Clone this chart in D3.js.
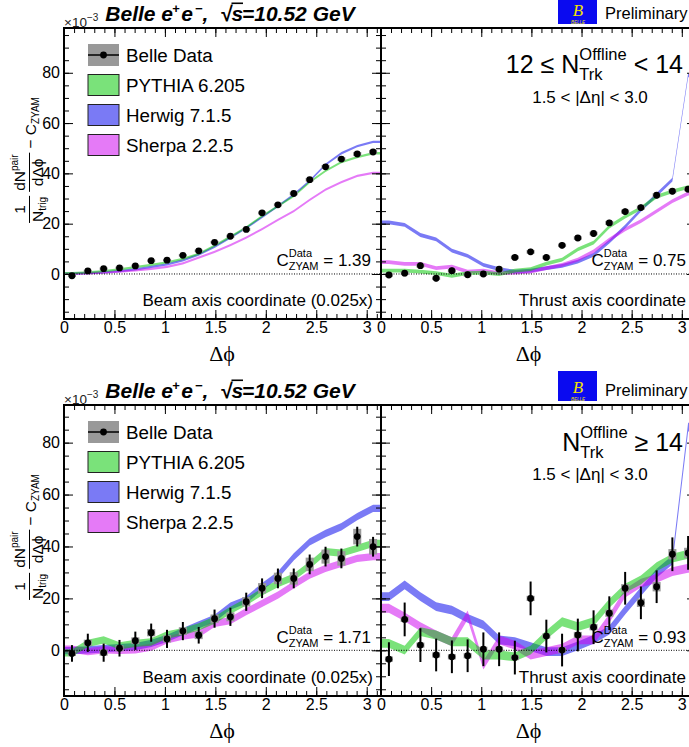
<!DOCTYPE html>
<html>
<head>
<meta charset="utf-8">
<script src="https://cdn.jsdelivr.net/npm/d3@7"></script>
<style>
  body { margin: 0; background: #fff; }
  svg { display: block; font-family: 'Liberation Sans', Arial, sans-serif; }
  svg text { white-space: pre; }
</style>
</head>
<body>
<svg id="chart" width="689" height="747"></svg>
<script>
// Δφ bin centres (20 bins over 0..π)
const phiCenters = [0.079, 0.236, 0.393, 0.550, 0.707, 0.864, 1.021, 1.178, 1.335, 1.492,
                    1.649, 1.806, 1.963, 2.120, 2.277, 2.435, 2.592, 2.749, 2.906, 3.063];
const xTicks = [0, 0.5, 1, 1.5, 2, 2.5, 3];
const yTicks = [0, 20, 40, 60, 80];
const legendLabels = ['Belle Data', 'PYTHIA 6.205', 'Herwig 7.1.5', 'Sherpa 2.2.5'];

// 12 <= N < 14, beam axis
const beamLowData   = [-0.7, 1.2, 2.1, 2.4, 3.2, 5.3, 5.5, 7.4, 9.2, 12.6, 15.0, 17.7, 24.3, 27.5, 32.0, 37.5, 42.6, 45.7, 47.7, 48.5];
const beamLowStat   = [0.4, 0.4, 0.4, 0.4, 0.4, 0.4, 0.4, 0.4, 0.4, 0.4, 0.4, 0.4, 0.4, 0.4, 0.4, 0.4, 0.4, 0.4, 0.4, 0.4];
const beamLowSys    = [0.5, 0.5, 0.5, 0.5, 0.5, 0.5, 0.5, 0.5, 0.5, 0.5, 0.6, 0.6, 0.6, 0.6, 0.7, 0.7, 0.7, 0.7, 0.8, 0.8];
const beamLowPythia = [0.3, 0.6, 1.1, 1.8, 2.7, 3.6, 4.6, 6.0, 8.0, 11.3, 14.8, 18.5, 23.0, 27.0, 31.0, 36.5, 41.0, 44.5, 46.5, 48.0];
const beamLowHerwig = [0.1, 0.3, 0.6, 1.1, 1.8, 2.8, 3.8, 5.4, 7.7, 10.8, 14.5, 18.3, 22.6, 27.0, 31.5, 37.0, 43.5, 48.0, 50.8, 52.5];
const beamLowSherpa = [0.05, 0.2, 0.5, 0.9, 1.4, 2.0, 2.8, 4.2, 6.5, 8.8, 11.5, 14.5, 17.8, 21.5, 25.0, 29.5, 33.5, 36.5, 39.0, 40.2];
const beamLowMcErr  = 0.45;

// 12 <= N < 14, thrust axis
const thrustLowData   = [-0.4, 0.3, 3.3, -1.7, 1.3, -0.3, 0.0, 1.9, 6.6, 8.8, 6.6, 11.4, 14.3, 16.1, 20.3, 24.8, 26.4, 31.3, 32.9, 33.7];
const thrustLowStat   = [1.2, 1.2, 1.2, 1.2, 1.2, 1.2, 1.2, 1.2, 1.2, 1.2, 1.2, 1.2, 1.2, 1.2, 1.2, 1.2, 1.2, 1.2, 1.2, 1.2];
const thrustLowSys    = [0.7, 0.7, 0.7, 0.7, 0.7, 0.7, 0.7, 0.7, 0.7, 0.7, 0.7, 0.7, 0.7, 0.7, 0.8, 0.8, 0.8, 0.8, 0.8, 0.8];
const thrustLowPythia = [1.3, 1.3, 0.9, 0.3, -0.7, 0.3, 0.5, -0.1, 1.3, 1.9, 4.1, 5.7, 9.8, 12.5, 18.8, 22.8, 26.2, 30.8, 32.8, 34.5];
const thrustLowHerwig = [20.5, 19.5, 15.5, 13.8, 9.3, 7.2, 3.6, 1.9, 0.9, 1.3, 2.3, 3.2, 4.9, 7.6, 12.9, 18.8, 25.5, 31.5, 37.5, 79.0];
const thrustLowSherpa = [4.7, 4.0, 4.0, 2.3, 2.9, 0.9, 1.3, 0.3, 0.5, 0.9, 2.3, 3.6, 5.7, 9.0, 13.7, 17.7, 21.0, 25.0, 29.0, 32.0];
const thrustLowMcErr  = 0.75;

// N >= 14, beam axis
const beamHighData   = [-1.2, 2.9, -0.9, 0.8, 3.7, 6.8, 4.4, 7.4, 5.8, 12.2, 12.9, 18.7, 23.9, 27.7, 27.7, 33.1, 36.1, 35.4, 43.8, 39.9];
const beamHighStat   = [3.2, 3.5, 3.5, 3.2, 3.5, 3.5, 3.5, 3.5, 3.2, 3.5, 3.5, 3.5, 3.8, 3.8, 3.8, 3.8, 3.8, 3.8, 3.8, 3.8];
const beamHighSys    = [1.0, 1.2, 1.2, 1.2, 1.3, 1.4, 1.4, 1.5, 1.5, 1.6, 1.7, 1.8, 2.0, 2.2, 2.4, 2.6, 2.7, 2.8, 3.0, 3.0];
const beamHighPythia = [-1.0, 2.7, 4.0, 1.7, 2.7, 3.2, 5.9, 7.2, 9.0, 11.6, 15.4, 18.7, 22.5, 25.7, 28.2, 32.8, 38.0, 37.4, 39.3, 41.2];
const beamHighHerwig = [-0.1, 0.2, 0.6, 1.0, 1.4, 2.7, 4.6, 7.2, 9.8, 12.3, 17.0, 19.4, 24.5, 29.0, 36.0, 41.8, 45.0, 47.6, 51.5, 54.7];
const beamHighSherpa = [0.5, -0.5, 0.2, 0.0, 0.2, 1.2, 4.0, 5.5, 6.3, 10.4, 11.4, 14.9, 18.1, 21.3, 25.2, 29.0, 31.6, 33.5, 35.4, 36.1];
const beamHighMcErr  = 1.4;

// N >= 14, thrust axis
const thrustHighData   = [-3.4, 11.9, 2.0, -1.8, -2.5, -2.1, 0.4, 0.4, -2.8, 20.0, 5.5, 0.1, 5.9, 8.9, 14.3, 23.9, 18.3, 24.5, 37.0, 37.5];
const thrustHighStat   = [6.5, 6.5, 6.5, 6.3, 6.3, 6.3, 6.5, 6.5, 6.5, 6.5, 6.3, 6.3, 6.3, 6.5, 6.5, 6.3, 6.3, 6.3, 6.5, 6.5];
const thrustHighSys    = [1.0, 1.0, 1.0, 1.0, 1.0, 1.0, 1.0, 1.0, 1.0, 1.0, 1.0, 1.0, 1.2, 1.2, 1.4, 1.6, 1.6, 1.8, 2.0, 2.0];
const thrustHighPythia = [2.7, 0.1, 7.2, 5.9, 3.3, 3.3, -1.8, -1.8, -2.5, 0.1, 5.9, 11.0, 9.1, 11.0, 18.1, 23.9, 27.1, 32.2, 35.5, 37.0];
const thrustHighHerwig = [20.7, 25.2, 20.7, 16.8, 15.5, 12.3, 9.8, 4.0, 3.3, 1.4, -0.5, -0.5, 1.7, 4.2, 7.8, 15.5, 22.6, 29.7, 34.8, 86.0];
const thrustHighSherpa = [16.2, 12.9, 9.1, 5.9, 3.3, 13.6, -5.7, 4.0, 2.0, -1.8, -0.5, 0.8, 4.0, 4.0, 12.3, 22.0, 25.9, 27.7, 30.3, 31.6];
const thrustHighMcErr  = 1.7;

const svg = d3.select('#chart');
const colors = { pythia: 'rgb(0,200,0)', herwig: 'rgb(0,0,235)', sherpa: 'rgb(205,0,240)' };
const bandOpacity = 0.52;

// Lay out a run of text pieces (with sub/superscripts) and anchor it
function rich(parent, x, y, parts, anchor) {
    const grp = parent.append('g');
    let cx = 0;
    const piece = (p, px) => {
        const t = grp.append('text')
            .attr('x', px).attr('y', p.dy || 0)
            .style('font-size', p.size + 'px')
            .text(p.t);
        if (p.family) t.style('font-family', p.family);
        return t.node().getComputedTextLength();
    };
    parts.forEach(p => {
        if (p.stack) {
            const w = Math.max(...p.stack.map(s => piece(s, cx)));
            cx += w;
        } else {
            const w = piece(p, cx);
            if (p.over) {
                grp.append('line')
                    .attr('x1', cx).attr('x2', cx + w + 1)
                    .attr('y1', -p.size * 0.82).attr('y2', -p.size * 0.82)
                    .attr('stroke', '#000').attr('stroke-width', 1.6);
            }
            cx += w + (p.gap || 0);
        }
    });
    const shift = anchor === 'end' ? -cx : anchor === 'middle' ? -cx / 2 : 0;
    grp.attr('transform', `translate(${x + shift},${y})`);
    return grp;
}

function drawRow(row) {
    const y = d3.scaleLinear().domain(row.yDomain).range([row.y1, row.y0]);

    // title, logo
    const title = rich(svg, 230, row.y0 - 7.5, [
        { t: 'Belle e', size: 21, gap: 2.5 }, { t: '+', size: 13, dy: -8, gap: 1.5 },
        { t: 'e', size: 21, gap: 2 }, { t: '\u2212', size: 13, dy: -8 },
        { t: ',  ', size: 21 }, { t: '\u221A', size: 21 },
        { t: 's', size: 21, over: true }, { t: '=10.52 GeV', size: 21 }
    ], 'middle');
    title.style('font-weight', 'bold').style('font-style', 'italic');

    rich(svg, 64, row.y0 - 1.5, [
        { t: '\u00D710', size: 13.5 }, { t: '\u22123', size: 10, dy: -6 }
    ], 'start').attr('fill', '#222');

    svg.append('rect').attr('x', 558).attr('y', row.y0 - 34)
        .attr('width', 39).attr('height', 30).attr('fill', '#0a0af0');
    svg.append('text').attr('x', 578).attr('y', row.y0 - 12)
        .attr('text-anchor', 'middle').attr('fill', '#f0e000')
        .style('font-family', "'Liberation Serif', serif").style('font-style', 'italic')
        .style('font-size', '17px').text('B');
    svg.append('text').attr('x', 578).attr('y', row.y0 - 4)
        .attr('text-anchor', 'middle').attr('fill', '#f0e000')
        .style('font-size', '4.5px').style('font-style', 'italic').text('BELLE');
    svg.append('text').attr('x', 605).attr('y', row.y0 - 9.5)
        .style('font-size', '16.5px').text('Preliminary');

    // y axis title
    const cy = row.y0 + 132;
    const yl = svg.append('g').attr('transform', `translate(0,${cy}) rotate(-90)`);
    const ylParts = yl.append('g');
    let lx = 0;
    const frac = (numParts, denParts) => {
        const num = rich(ylParts, 0, 25, numParts, 'start');
        const den = rich(ylParts, 0, 43, denParts, 'start');
        const wn = num.node().getBBox().width, wd = den.node().getBBox().width;
        const w = Math.max(wn, wd) + 2;
        num.attr('transform', `translate(${lx + (w - wn) / 2},25)`);
        den.attr('transform', `translate(${lx + (w - wd) / 2},43)`);
        ylParts.append('line').attr('x1', lx).attr('x2', lx + w)
            .attr('y1', 29.5).attr('y2', 29.5).attr('stroke', '#000').attr('stroke-width', 1);
        lx += w + 4;
    };
    frac([{ t: '1', size: 15.5 }], [{ t: 'N', size: 15.5 }, { t: 'trig', size: 10, dy: 3 }]);
    frac([{ t: 'dN', size: 15.5 }, { t: 'pair', size: 10, dy: -7 }],
         [{ t: 'd\u0394\u03D5', size: 15.5 }]);
    const cz = rich(ylParts, lx, 36, [
        { t: '\u2212 C', size: 15.5 }, { t: 'ZYAM', size: 10, dy: 3 }
    ], 'start');
    lx += cz.node().getBBox().width;
    ylParts.attr('transform', `translate(${-lx / 2},0)`);

    row.panels.forEach(p => drawPanel(p, row, y));
}

function drawPanel(p, row, y) {
    const x = d3.scaleLinear().domain([0, Math.PI]).range([p.x0, p.x1]);
    const clipId = 'clip' + p.id;
    svg.append('clipPath').attr('id', clipId).append('rect')
        .attr('x', p.x0).attr('y', row.y0)
        .attr('width', p.x1 - p.x0).attr('height', row.y1 - row.y0);
    const plot = svg.append('g').attr('clip-path', `url(#${clipId})`);

    // model bands, extended flat to the frame edges
    const bandPts = vals => [{ x: 0, v: vals[0] }]
        .concat(phiCenters.map((c, i) => ({ x: c, v: vals[i] })))
        .concat([{ x: Math.PI, v: vals[vals.length - 1] }]);
    const area = d3.area()
        .x(d => x(d.x))
        .y0(d => y(d.v - p.mcErr))
        .y1(d => y(d.v + p.mcErr));
    [['herwig', p.herwig], ['sherpa', p.sherpa], ['pythia', p.pythia]].forEach(([k, vals]) => {
        plot.append('path').datum(bandPts(vals))
            .attr('d', area)
            .attr('fill', colors[k]).attr('fill-opacity', bandOpacity);
    });

    // zero line
    plot.append('line').attr('x1', p.x0).attr('x2', p.x1)
        .attr('y1', y(0)).attr('y2', y(0))
        .attr('stroke', '#000').attr('stroke-width', 1).attr('stroke-dasharray', '1,1.5');

    // data
    const pts = phiCenters.map((c, i) => ({ x: c, v: p.data[i], s: p.stat[i], sy: p.sys[i] }));
    plot.selectAll(null).data(pts).enter().append('rect')
        .attr('x', d => x(d.x - 0.04)).attr('width', d => x(d.x + 0.04) - x(d.x - 0.04))
        .attr('y', d => y(d.v + d.sy)).attr('height', d => y(d.v - d.sy) - y(d.v + d.sy))
        .attr('fill', '#999');
    plot.selectAll(null).data(pts).enter().append('line')
        .attr('x1', d => x(d.x)).attr('x2', d => x(d.x))
        .attr('y1', d => y(d.v + d.s)).attr('y2', d => y(d.v - d.s))
        .attr('stroke', '#000').attr('stroke-width', 2);
    plot.selectAll(null).data(pts).enter().append('circle')
        .attr('cx', d => x(d.x)).attr('cy', d => y(d.v)).attr('r', 3.4)
        .attr('fill', '#000');

    // axes: ticks pointing inwards on all four sides
    const yMinor = d3.range(-15, row.yDomain[1], 5);
    const xMinor = d3.range(0, 3.15, 0.1);
    const axes = [
        [d3.axisBottom(x).tickValues(xTicks).tickSize(-9).tickPadding(3).tickFormat(d3.format('')), `translate(0,${row.y1})`],
        [d3.axisBottom(x).tickValues(xMinor).tickSize(-5).tickFormat(''), `translate(0,${row.y1})`],
        [d3.axisTop(x).tickValues(xTicks).tickSize(-9).tickFormat(''), `translate(0,${row.y0})`],
        [d3.axisTop(x).tickValues(xMinor).tickSize(-5).tickFormat(''), `translate(0,${row.y0})`],
        [d3.axisLeft(y).tickValues(yTicks).tickSize(-9).tickPadding(4).tickFormat(p.yLabels ? d3.format('') : ''), `translate(${p.x0},0)`],
        [d3.axisLeft(y).tickValues(yMinor).tickSize(-5).tickFormat(''), `translate(${p.x0},0)`],
        [d3.axisRight(y).tickValues(yTicks).tickSize(-9).tickFormat(''), `translate(${p.x1},0)`],
        [d3.axisRight(y).tickValues(yMinor).tickSize(-5).tickFormat(''), `translate(${p.x1},0)`]
    ];
    axes.forEach(([ax, tr]) => {
        const g = svg.append('g').attr('transform', tr).call(ax);
        g.select('.domain').remove();
        g.selectAll('line').attr('stroke', '#000').attr('stroke-width', 1);
        g.selectAll('text').attr('fill', '#000').style('font-size', '16px')
            .style('font-family', "'Liberation Sans', Arial, sans-serif");
    });

    svg.append('rect').attr('x', p.x0).attr('y', row.y0)
        .attr('width', p.x1 - p.x0).attr('height', row.y1 - row.y0)
        .attr('fill', 'none').attr('stroke', '#000').attr('stroke-width', 2);

    svg.append('text').attr('x', (p.x0 + p.x1) / 2 + (p.yLabels ? -0.5 : -10))
        .attr('y', row.y1 + 42).attr('text-anchor', 'middle')
        .style('font-family', "'Liberation Serif', serif").style('font-size', '22px')
        .text('\u0394\u03D5');

    // annotations
    const textRight = p.yLabels ? 373 : 686;
    svg.append('text').attr('x', textRight).attr('y', row.y1 - 13)
        .attr('text-anchor', 'end').style('font-size', '17px').text(p.coord);
    rich(svg, p.yLabels ? 371 : 686, row.y1 - 53, [
        { t: 'C', size: 17 },
        { stack: [{ t: 'Data', size: 11, dy: -9 }, { t: 'ZYAM', size: 11, dy: 4 }] },
        { t: ' = ' + p.czyam, size: 17 }
    ], 'end');

    if (p.yLabels) {
        // legend
        const ly = row.y0 + 27;
        legendLabels.forEach((lab, i) => {
            const cyy = ly + i * 30;
            if (i === 0) {
                svg.append('rect').attr('x', 88).attr('y', cyy - 11).attr('width', 31).attr('height', 22).attr('fill', '#999');
                svg.append('line').attr('x1', 88).attr('x2', 119).attr('y1', cyy).attr('y2', cyy)
                    .attr('stroke', '#000').attr('stroke-width', 1.5);
                svg.append('circle').attr('cx', 103.5).attr('cy', cyy).attr('r', 3.4).attr('fill', '#000');
            } else {
                const k = ['pythia', 'herwig', 'sherpa'][i - 1];
                svg.append('rect').attr('x', 88).attr('y', cyy - 10.5).attr('width', 31).attr('height', 21)
                    .attr('fill', colors[k]).attr('fill-opacity', bandOpacity)
                    .attr('stroke', '#222').attr('stroke-width', 1);
            }
            svg.append('text').attr('x', 126).attr('y', cyy + 7)
                .style('font-size', '18.8px').text(lab);
        });
    } else {
        rich(svg, 683, row.y0 + row.nOffset, row.nParts, 'end');
        svg.append('text').attr('x', 590).attr('y', row.y0 + 75)
            .attr('text-anchor', 'middle').style('font-size', '17px')
            .text('1.5 < |\u0394\u03B7| < 3.0');
    }
}

const offlineStack = { stack: [{ t: 'Offline', size: 16.5, dy: -13 }, { t: 'Trk', size: 16.5, dy: 7 }] };

const rows = [
    {
        y0: 28, y1: 319, yDomain: [-17.9, 97.8], nOffset: 45,
        nParts: [{ t: '12 \u2264 N', size: 25 }, offlineStack, { t: ' < 14', size: 25 }],
        panels: [
            { id: 'a', x0: 64, x1: 381, yLabels: true, coord: 'Beam axis coordinate (0.025x)', czyam: '1.39',
              data: beamLowData, stat: beamLowStat, sys: beamLowSys,
              pythia: beamLowPythia, herwig: beamLowHerwig, sherpa: beamLowSherpa, mcErr: beamLowMcErr },
            { id: 'b', x0: 381, x1: 696, yLabels: false, coord: 'Thrust axis coordinate', czyam: '0.75',
              data: thrustLowData, stat: thrustLowStat, sys: thrustLowSys,
              pythia: thrustLowPythia, herwig: thrustLowHerwig, sherpa: thrustLowSherpa, mcErr: thrustLowMcErr }
        ]
    },
    {
        y0: 405, y1: 696, yDomain: [-17.6, 94.5], nOffset: 46,
        nParts: [{ t: 'N', size: 25 }, offlineStack, { t: ' \u2265 14', size: 25 }],
        panels: [
            { id: 'c', x0: 64, x1: 381, yLabels: true, coord: 'Beam axis coordinate (0.025x)', czyam: '1.71',
              data: beamHighData, stat: beamHighStat, sys: beamHighSys,
              pythia: beamHighPythia, herwig: beamHighHerwig, sherpa: beamHighSherpa, mcErr: beamHighMcErr },
            { id: 'd', x0: 381, x1: 696, yLabels: false, coord: 'Thrust axis coordinate', czyam: '0.93',
              data: thrustHighData, stat: thrustHighStat, sys: thrustHighSys,
              pythia: thrustHighPythia, herwig: thrustHighHerwig, sherpa: thrustHighSherpa, mcErr: thrustHighMcErr }
        ]
    }
];

rows.forEach(drawRow);
</script>
</body>
</html>
